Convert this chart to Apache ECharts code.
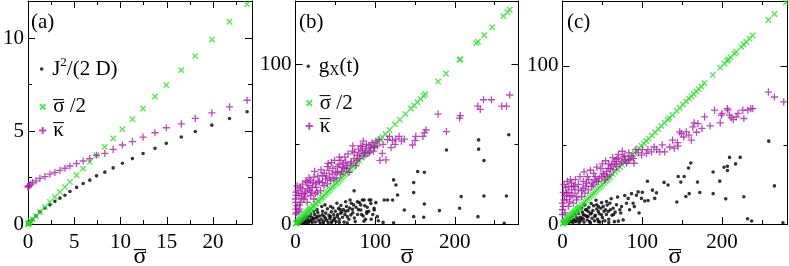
<!DOCTYPE html>
<html><head><meta charset="utf-8">
<script src="https://cdn.jsdelivr.net/npm/echarts@6/dist/echarts.min.js"></script>
<style>html,body{margin:0;padding:0;background:#fff}#c{width:789px;height:266px}</style>
</head><body><div id="c"></div>
<script>
// ---------- data ----------
// panel (a)
const aSigma = [0, 0.03, 0.07, 0.15, 0.3, 0.5, 0.86, 1.29, 1.83, 2.37, 2.91, 3.45, 3.99, 4.53, 5.25, 5.96, 6.68, 7.4, 8.3, 9.2, 10.2, 11.28, 12.43, 13.72, 14.94, 16.56, 18.07, 19.86, 21.77, 23.67];
const aJ2D   = [0, 0.015, 0.035, 0.075, 0.15, 0.25, 0.43, 0.65, 0.86, 1.03, 1.22, 1.39, 1.55, 1.75, 1.97, 2.18, 2.36, 2.59, 2.79, 3.02, 3.27, 3.52, 3.79, 4.07, 4.34, 4.68, 4.98, 5.32, 5.68, 6.04];
const aHalf  = [0, 0.015, 0.035, 0.075, 0.15, 0.25, 0.43, 0.645, 0.915, 1.185, 1.455, 1.725, 1.995, 2.265, 2.625, 2.98, 3.34, 3.7, 4.15, 4.6, 5.1, 5.64, 6.215, 6.86, 7.47, 8.28, 9.035, 9.93, 10.885, 11.835];
const aKappa = [2.0, 2.01, 2.04, 2.08, 2.15, 2.23, 2.32, 2.45, 2.55, 2.68, 2.77, 2.89, 3.0, 3.12, 3.25, 3.39, 3.52, 3.7, 3.8, 4.02, 4.25, 4.43, 4.68, 4.91, 5.18, 5.39, 5.68, 5.98, 6.30, 6.66];

// panel (b)  [sigma, value]
const bHalf = [[0.5,0.25],[1,0.5],[1.5,0.75],[2,1],[3,1.5],[4,2],[5,2.5],[6,3],[7,3.5],[8,4],[9,4.5],[10,5],[11,5.5],[12,6],[13,6.5],[14,7],[15,7.5],[16,8],[17,8.5],[18,9],[19,9.5],[20,10],[22,11],[23,11.5],[25,12.5],[26,13],[28,14],[29,14.5],[31,15.5],[33,16.5],[34,17],[36,18],[38,19],[40,20],[42,21],[44,22],[46,23],[48,24],[50,25],[52,26],[54,27],[56,28],[58,29],[60,30],[62,31],[64,32],[66,33],[68,34],[70,35],[72,36],[74,37],[76,38],[78,39],[80,40],[83,41.5],[86,43],[88,44],[91,45.5],[94,47],[97,48.5],[100,50],[103,51.5],[106,53],[109,54.5],[113,56.5],[118,59],[125,62.5],[131,65.5],[138,69],[145,72.5],[149,74.5],[153,76.5],[157,78.5],[161,80.5],[163,81.5],[179,89.5],[189,94.5],[206,103],[207,103.5],[227,113.5],[229,114.5],[237,118.5],[247,123.5],[261,130.5],[266,133],[269,134.5]];
const bKappa = [[269,81],[265,74],[259,74],[246,78],[236,78],[229,74],[232,72],[207,68],[206,66.5],[189.5,58],[179,69],[164,59],[162,57.4],[160,55],[151,55],[147,49.6],[150,52.3],[136.6,53.3],[126,53.3],[121.8,52.3],[115.5,53],[113.5,40.3],[106,40],[109,44.3],[103,49],[98,45.8],[94.6,48],[91,44.3],[86,42.7],[82,49],[80,41],[75.7,36.7],[71.5,45.8],[67.3,32.5],[63,38.8],[59,35.6],[54.7,37.3],[50.5,32.5],[46,31.4],[42,33.5],[37.8,28.3],[33.6,30.4],[29.4,26.2],[25.2,25.2],[21,23],[16.8,24],[12.6,20],[8.4,22],[4.2,17.8],[0,15.7],[2,11.5],[6.3,13.6],[10.5,15.7],[14.7,13.6],[19,17.8],[23,15.7],[27.3,20],[31.5,21],[35.7,24],[40,25.2],[44,27.3],[48.3,28.3],[52.5,32.5],[56.7,31.4],[61,34.6],[65,36.7],[69.4,37.7],[73.6,41],[77.8,43],[84,46],[88.3,47.2],[92.5,49.3],[0.5,9.4],[0.3,6.3],[1.5,7.3],[5.5,9.4],[0.2,13.6],[0.4,20],[2,24],[14.7,26.2],[19,27.3],[23,29.4],[40,36],[45,38.5],[57,40],[98.7,48.6],[84,48.6],
  [1,18],[3,21],[5,12],[7,19],[9,25],[4,8],[8,16],[6,23],[11,19],[13,27],[15,22],[17,29],[20,20],[22,26],[24,33],[26,23],[28,30],[30,27],[12,17],[18,21],[25,19],[32,34],[34,26],[36,32],[39,30],[41,38],[43,29],[47,35],[49,40],[51,29],[53,36],[55,42],[58,33],[60,38],[62,42],[64,35],[66,44],[70,39],[72,49],[74,45],[77,40],[79,47],[81,44],[85,52],[87,45],[89,50],[93,45],[96,51],[99,48],[101,52],[105,53],[110,50],[118,55],[120,48],[125,50],[130,55],[133,52]];
const bGx = [[267.8,56],[264.8,17.6],[262,0.5],[236.6,39.8],[229.9,47],[229.9,52.8],[236.6,17.6],[229.1,4.6],[208,17.2],[206,9.9],[189.6,46.5],[180.7,8.4],[161.8,12.6],[148.4,26],[148.4,19.7],[153.4,32.9],[161.8,32.5],[136.6,8.8],[148.4,4.6],[161,4.2],[123.2,27.7],[126.1,24.5],[128.2,18.2],[121.9,15.1],[115.6,15.1],[111.4,15.1],[123.2,0.8],[110,1],[73.6,20.8],[63,14],[68.5,15.1],[84,15.1],[92.5,15.1],[94.6,12.9],[87,11.5],[82,8.8],[98.7,9.9],[89.5,7.7],[102.7,4.6],[71.5,9.2],[69.5,5.7],[65,4.6],[56.7,6.7],[52.5,4.6],[44,4.6],[48.3,2.5],[37.8,3.6],[33.6,5.7],[27.3,4.6],[23,3.6],[18.9,2.5],[14.7,1.5],[10.5,0.8],[6.3,0.4],[3,0.8],[4.5,2],[5,0.3],[7,1.5],[8,3],[9,0.6],[11,2.2],[12,4],[13,1],[15,3.2],[16,0.5],[17,5],[18,1.8],[20,4.4],[21,0.9],[22,2.8],[24,6],[25,1.3],[26,3.8],[28,7.2],[29,2.2],[30,5],[31,0.7],[32,3],[34,8],[35,1.8],[36,4.6],[38,6.8],[39,2.4],[40,9.5],[41,1],[42,5.4],[43,3.4],[45,7.6],[46,1.8],[47,10],[48,5.8],[49,3.8],[50,8],[51,1.5],[53,6],[54,9.8],[55,3],[57,11.6],[58,7.5],[59,4.2],[60,9],[61,1.2],[62,6],[64,11],[66,8.4],[67,3],[70,13],[72,7],[74,3.8],[76,10.5],[78,6],[80,13.5],[85,5],[90,10.5],[95,3],[100.9,13.4],[98.8,8.8],[94.6,15.1],[89.5,6.7],[86.1,15.1],[81.9,12],[77.7,14],
  [2,1.5],[6,2.8],[10,3.5],[14,5],[19,6.5],[23,8],[27,9],[33,11],[37,12],[44,11],[52,13],[56,9],[63,8],[68,10],[73,12],[79,9],[83,6],[88,3],[92,8],[97,6],[35,0.5],[45,0.8],[55,1],[65,0.6],[75,1.5],[86,1.8],[104,2]];

// panel (c)
const cHalf = [[0.5,0.25],[1,0.5],[1.5,0.75],[2,1],[2.5,1.25],[3,1.5],[3.5,1.75],[4,2],[5,2.5],[6,3],[7,3.5],[8,4],[9,4.5],[10,5],[11,5.5],[12,6],[13,6.5],[14,7],[15,7.5],[16,8],[17,8.5],[18,9],[19,9.5],[20,10],[21,10.5],[22,11],[24,12],[26,13],[28,14],[30,15],[32,16],[34,17],[36,18],[38,19],[40,20],[42,21],[44,22],[46,23],[48,24],[50,25],[52,26],[54,27],[56,28],[58,29],[60,30],[63,31.5],[66,33],[69,34.5],[72,36],[75,37.5],[78,39],[81,40.5],[84,42],[87,43.5],[90,45],[93,46.5],[96,48],[99,49.5],[102,51],[105,52.5],[108,54],[112,56],[116,58],[120,60],[124,62],[128,64],[132,66],[134,67],[138,69],[143,71.5],[147,73.5],[151,75.5],[155,77.5],[158.5,79.25],[161.5,80.75],[164.4,82.2],[167.7,83.85],[170.6,85.3],[174,87],[178,89],[188.5,94.25],[197.7,98.85],[203,101.5],[206.5,103.25],[208,104],[210.6,105.3],[215.6,107.8],[217.7,108.85],[224,112],[227,113.5],[230.2,115.1],[234.4,117.2],[238.5,119.25],[258,129],[265.6,132.8],[280,140]];
const cKappa = [[258.1,83.4],[265.6,80.3],[277.3,77.2],[238.5,73],[232.3,72],[226,72],[227.3,66.7],[217.7,67.7],[211.5,67.3],[209.4,68.8],[207.3,72],[206.5,73],[199,68.8],[197.7,64],[190.6,72],[178.1,67.7],[174.8,60.4],[169.8,63.5],[163.5,61.4],[161.5,53],[158.5,56.2],[155.2,58.3],[149,57.2],[146.9,58.3],[144,51.4],[144.8,49.3],[134.4,48.7],[128.1,45.6],[121.9,45.6],[114.8,48.7],[111.5,45.6],[105.2,44.6],[99,43.6],[89.8,38.4],[89,41.5],[82.3,40.5],[78.1,40.5],[74,39.4],[67.7,40.9],[67.7,36.3],[63.5,34.2],[59.4,31],[55.2,33.1],[53.1,27.9],[49,30],[44.8,26.9],[40.6,27.9],[36.5,23.7],[30.2,25.8],[26,22.6],[19.8,21.6],[15.6,19.5],[11.5,25.8],[9.4,17.4],[5.2,15.3],[1,11.1],[3.1,7],[7.3,11.1],[13.5,13.2],[17.7,15.3],[24,17.4],[28.1,19.5],[32.3,21.6],[38.5,24.7],[42.7,26.8],[51,32],[57.3,35.2],[61.5,37.3],[64.8,39.4],[69.8,41.5],[76,42.5],[80.2,38.4],[84.4,40.5],[0,6],[0,9],[2,15.3],[5.2,19.5],[8,23.7],[0,13.2],[11.5,21.6],[15.6,23.7],
  [1,20],[2,25],[3,18],[4,23],[6,27],[7,20],[9,14],[10,28],[12,18],[14,24],[16,28],[18,17],[20,25],[22,30],[24,21],[26,27],[27,33],[29,24],[31,30],[33,28],[35,34],[37,26],[39,32],[41,30],[43,36],[46,29],[48,35],[50,38],[52,31],[54,40],[56,30],[58,38],[60,35],[63,42],[66,38],[70,44],[72,38],[75,46],[78,43],[83,45],[87,43],[92,47],[95,45],[100,47],[107,47],[118,47],[125,50],[138,53],[140,48],[152,55],[165,64],[168,58],[185,62],[200,70],[214,66],[220,70],[236,73]];
const cGx = [[258.5,52.4],[265.6,24.1],[276.3,0.8],[232,3.3],[237.1,1.9],[227.3,17.2],[222.7,42.1],[209.4,42.1],[216.9,38],[202.5,35.9],[206.7,36.5],[206.7,33.8],[204.6,15.9],[197.1,27.1],[188.8,19.2],[188.8,32.9],[172.1,19.9],[169.2,26.5],[160.8,38.6],[157.9,35.4],[158.8,19.2],[148.3,26.5],[145,30],[143.3,13.9],[152.5,30],[154.6,17.4],[132.3,24.7],[127.3,26.3],[117.7,19.7],[115.6,16.2],[112.7,21.4],[106.5,27],[107.3,14.9],[103.1,14.5],[98.9,16.2],[94.8,20.3],[92.7,18.2],[88.5,13.1],[86.5,19.2],[82.3,16.2],[80.2,13.1],[76,2.6],[74,11],[71.9,9],[67.7,12.2],[63.5,10],[59.4,13.1],[57.3,7.9],[55.2,14.2],[51,11],[48.9,5.8],[44.8,7.9],[42.7,12.2],[40.6,4.8],[36.5,6.9],[32.3,7.9],[30.2,4.8],[26,5.8],[24,3.7],[19.8,2.6],[15.6,2.1],[11.5,1.7],[7.3,1.3],[3.1,0.6],[4,1.5],[5,0.4],[6,2.6],[8,0.8],[9,3.5],[10,1.8],[12,4.6],[13,0.6],[14,2.8],[16,5.5],[17,1.5],[18,3.8],[20,6.6],[21,0.9],[22,4.2],[23,2.2],[25,7.5],[26,3.2],[27,1.2],[28,5.5],[29,9],[31,2.5],[32,4.8],[33,10.5],[34,1.5],[35,6.4],[37,3.6],[38,8.5],[39,11.5],[40,2],[41,5.5],[43,9.5],[44,3],[46,6.5],[47,1.2],[48,10],[50,4],[52,8],[53,2],[55,6],[56,12],[58,3],[60,9],[62,5.5],[65,1.5],[66,7.5],
  [3,2.2],[7,3.5],[11,5],[15,7],[19,8.5],[24,10],[28,12],[30,9],[36,13],[42,15],[45,11],[49,13.5],[54,9],[61,16],[64,6],[69,17],[73,7],[78,18],[84,9],[90,11],[96,7],[100,20],[35,0.8],[45,1.5],[58,0.9],[70,1.8]];

// ticks
const aXTicks = [0, 5, 10, 15, 20];
const aYTicks = [0, 5, 10];
const bXTicks = [0, 100, 200];
const bYTicks = [0, 100];
const panelLabels = ['(a)', '(b)', '(c)'];
// overbar drawn as a dash line above the letter
const legendTexts = {
  J: '{t|J}{sup|2}{t|/(2 D)}',
  G: '{t|g}{sub|X}{t|(t)}',
  S: '{o|–}\n{l|σ /2}\n{e| }',
  K: '{o|–}\n{l|κ}\n{e| }'
};
const axisNameText = '{no|–}\n{nl|σ}';

// ---------- styling ----------
const FONT = "'Liberation Serif', 'Times New Roman', serif";
const GREEN = '#1ee61e', PURPLE = '#aa1eaa', BLACK = '#000';
const DOT = 'path://M0,0ZM10,10ZM5,3A2,2,0,1,1,5,7A2,2,0,1,1,5,3Z';
const XMK = 'path://M0,0ZM10,10ZM2,2L8,8M8,2L2,8';
const PLUS = 'path://M0,0ZM10,10ZM1,5L9,5M5,1L5,9';

const rich = {
  t: {fontFamily: FONT, fontSize: 21, lineHeight: 25, color: '#000'},
  l: {fontFamily: FONT, fontSize: 21, lineHeight: 12, color: '#000'},
  o: {fontFamily: FONT, fontSize: 21, lineHeight: 3.4, color: '#000'},
  e: {fontFamily: FONT, fontSize: 1, lineHeight: 3.4, color: '#000'},
  no: {fontFamily: FONT, fontSize: 24, lineHeight: 3.4, color: '#000'},
  nl: {fontFamily: FONT, fontSize: 24, lineHeight: 13, color: '#000'},
  sup: {fontFamily: FONT, fontSize: 13, lineHeight: 10, verticalAlign: 'top', color: '#000'},
  sub: {fontFamily: FONT, fontSize: 14, lineHeight: 10, verticalAlign: 'bottom', color: '#000'}
};

const grids = [
  {left: 28, top: 1, width: 224, height: 223},
  {left: 295.5, top: 1, width: 223, height: 223},
  {left: 562.5, top: 1, width: 225, height: 223}
].map(g => Object.assign(g, {outerBoundsMode: 'none', containLabel: false}));
const xAxes = [], yAxes = [];
const mainX = [], mainY = [];
function lineStyle(){ return {color: '#000', width: 1}; }
function addAxes(g, xmax, ymax, xMaj, xMin, yMaj, yMin, xTicks, yTicks) {
  const base = {type: 'value', gridIndex: g, min: 0, splitLine: {show: false}};
  mainX.push(xAxes.length);
  xAxes.push(Object.assign({}, base, {
    max: xmax, interval: xMaj, position: 'bottom',
    axisLine: {show: true, onZero: false, lineStyle: lineStyle()},
    axisTick: {show: true, inside: true, length: 7, lineStyle: lineStyle()},
    axisLabel: {show: true, margin: 8, fontFamily: FONT, fontSize: 21, color: '#000',
      showMaxLabel: false, formatter: v => xTicks.includes(v) ? String(v) : ''},
    name: axisNameText, nameLocation: 'middle', nameGap: 23, nameMoveOverlap: false,
    nameTextStyle: {rich: rich, fontFamily: FONT, fontSize: 24, color: '#000'}
  }));
  [['bottom', xMin, 4, false], ['top', xMaj, 7, true], ['top', xMin, 4, false]].forEach(([pos, iv, len, line]) => {
    xAxes.push(Object.assign({}, base, {
      max: xmax, interval: iv, position: pos,
      axisLine: {show: line, onZero: false, lineStyle: lineStyle()},
      axisTick: {show: true, inside: true, length: len, lineStyle: lineStyle()},
      axisLabel: {show: false}
    }));
  });
  mainY.push(yAxes.length);
  yAxes.push(Object.assign({}, base, {
    max: ymax, interval: yMaj, position: 'left',
    axisLine: {show: true, onZero: false, lineStyle: lineStyle()},
    axisTick: {show: true, inside: true, length: 7, lineStyle: lineStyle()},
    axisLabel: {show: true, margin: 4, fontFamily: FONT, fontSize: 21, color: '#000',
      showMaxLabel: false, formatter: v => yTicks.includes(v) ? String(v) : ''}
  }));
  [['left', yMin, 4, false], ['right', yMaj, 7, true], ['right', yMin, 4, false]].forEach(([pos, iv, len, line]) => {
    yAxes.push(Object.assign({}, base, {
      max: ymax, interval: iv, position: pos,
      axisLine: {show: line, onZero: false, lineStyle: lineStyle()},
      axisTick: {show: true, inside: true, length: len, lineStyle: lineStyle()},
      axisLabel: {show: false}
    }));
  });
}
addAxes(0, 24.2, 12, 5, 2.5, 5, 2.5, aXTicks, aYTicks);
addAxes(1, 280, 140, 100, 50, 100, 50, bXTicks, bYTicks);
addAxes(2, 282, 141, 100, 50, 100, 50, bXTicks, bYTicks);

function sc(name, data, p, sym, color, stroke) {
  return {
    type: 'scatter', name, data, xAxisIndex: mainX[p], yAxisIndex: mainY[p],
    symbol: sym, symbolSize: 9, clip: false, silent: true,
    itemStyle: stroke ? {color: 'rgba(0,0,0,0)', borderColor: color, borderWidth: 1.3}
                      : {color: color, borderWidth: 0},
    emphasis: {disabled: true}
  };
}
const zip = (xs, ys) => xs.map((x, i) => [x, ys[i]]);
const series = [
  sc('J', zip(aSigma, aJ2D), 0, DOT, BLACK, false),
  sc('S', zip(aSigma, aHalf), 0, XMK, GREEN, true),
  sc('K', zip(aSigma, aKappa), 0, PLUS, PURPLE, true),
  sc('G', bGx, 1, DOT, BLACK, false),
  sc('S2', bHalf, 1, XMK, GREEN, true),
  sc('K2', bKappa, 1, PLUS, PURPLE, true),
  sc('G3', cGx, 2, DOT, BLACK, false),
  sc('S3', cHalf, 2, XMK, GREEN, true),
  sc('K3', cKappa, 2, PLUS, PURPLE, true)
];
const legFmt = n => legendTexts[n.replace(/\d/g, '')];
function legend(name, left, top) {
  return {
    data: [name], left, top, orient: 'vertical', padding: 0, itemGap: 0,
    itemWidth: 11, itemHeight: 9, selectedMode: false,
    formatter: legFmt, textStyle: {rich, fontFamily: FONT, fontSize: 21}
  };
}
const option = {
  animation: false,
  grid: grids,
  xAxis: xAxes,
  yAxis: yAxes,
  title: [
    {text: panelLabels[0], left: 31, top: 12},
    {text: panelLabels[1], left: 299, top: 12},
    {text: panelLabels[2], left: 567, top: 12}
  ].map(t => Object.assign(t, {padding: 0, textStyle: {fontFamily: FONT, fontSize: 21, fontWeight: 'normal', color: '#000'}})),
  legend: [
    legend('J', 37.2, 56.5), legend('S', 37.2, 88.6), legend('K', 37.2, 112.3),
    legend('G', 303.8, 55.8), legend('S2', 303.8, 84.9), legend('K2', 303.8, 107.9)
  ],
  series
};
const chart = echarts.init(document.getElementById('c'), null, {renderer: 'canvas'});
chart.setOption(option);
</script></body></html>
